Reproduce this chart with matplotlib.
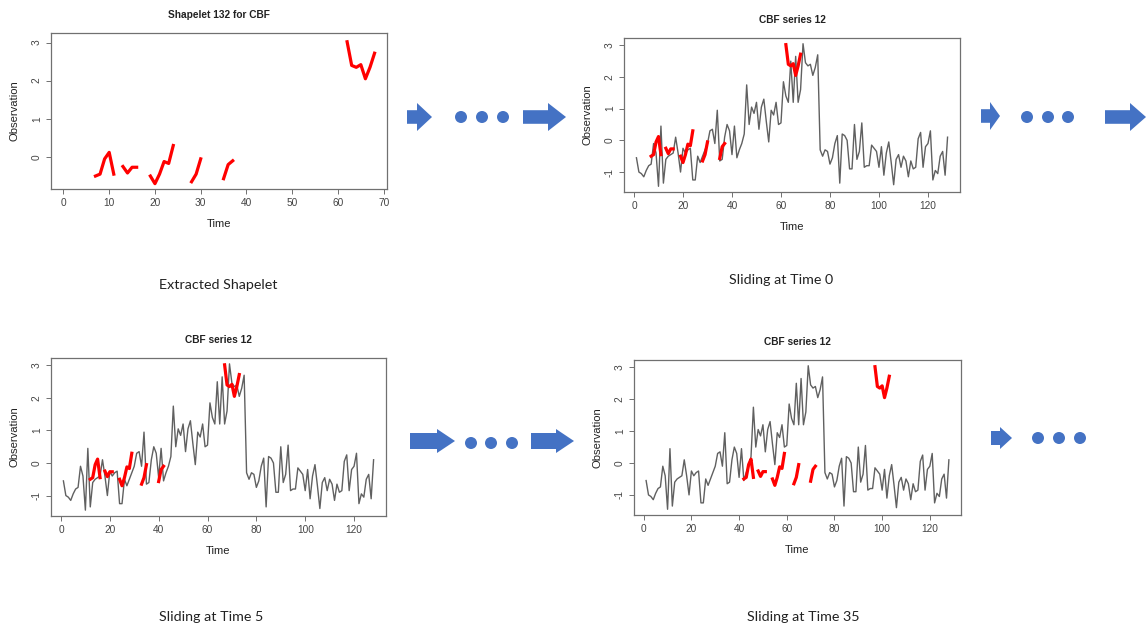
import numpy as np
import matplotlib
matplotlib.use("Agg")
import matplotlib.pyplot as plt
from matplotlib.patches import Polygon, Circle

# CBF series 12 (t = 1..128)
series_values = [
    -0.55, -1.00, -1.05, -1.15, -0.95, -0.80, -0.75, -0.10, -0.40, -1.45,
    0.45, -1.35, -0.60, -0.50, -0.45, -0.40, 0.10, -0.40, -1.00, -0.25,
    -0.40, -0.30, -0.25, -1.25, -1.25, -0.50, -0.70, -0.50, -0.30, -0.10,
    0.30, 0.35, -0.10, 0.95, -0.65, -0.60, 0.10, 0.50, 0.30, -0.45,
    0.45, -0.55, -0.30, -0.10, 0.20, 1.75, 0.50, 1.05, 0.85, 1.20,
    0.35, 1.05, 1.30, 0.60, -0.05, 0.95, 0.80, 1.20, 0.50, 0.55,
    1.85, 1.40, 1.20, 2.50, 1.20, 2.65, 1.20, 1.60, 3.05, 2.45,
    2.35, 2.40, 2.05, 2.30, 2.70, -0.30, -0.50, -0.30, -0.35, -0.75,
    -0.55, -0.10, 0.15, -1.35, 0.20, 0.15, 0.00, -0.90, -0.90, 0.50,
    -0.60, -0.35, 0.55, -0.85, -0.80, -0.80, -0.15, -0.25, -0.35, -0.85,
    -0.20, -1.10, -0.40, -0.05, -0.70, -1.40, -0.60, -0.45, -0.85, -0.50,
    -0.65, -1.15, -0.65, -0.90, -0.85, 0.05, 0.25, -0.85, -0.20, -0.10,
    0.30, -1.25, -0.95, -1.05, -0.50, -0.35, -1.10, 0.10,
]
series_time = np.arange(1, len(series_values) + 1)

# Shapelet 132 (t = 7..68, gaps are NaN)
nan = np.nan
shapelet_values = (
    [-0.50, -0.45, -0.05, 0.12, -0.45]
    + [nan]
    + [-0.25, -0.42, -0.27, -0.27]
    + [nan, nan]
    + [-0.50, -0.70, -0.45, -0.12, -0.17, 0.30]
    + [nan] * 3
    + [-0.65, -0.45, -0.05]
    + [nan] * 4
    + [-0.57, -0.20, -0.10]
    + [nan] * 24
    + [3.02, 2.40, 2.35, 2.42, 2.05, 2.35, 2.72]
)
shapelet_start = 7
shapelet_time = np.arange(shapelet_start, shapelet_start + len(shapelet_values))

slide_offsets = [0, 5, 35]
captions = ["Extracted Shapelet", "Sliding at Time 0", "Sliding at Time 5", "Sliding at Time 35"]

W, H = 1147, 626
plt.rcParams["font.family"] = ["Liberation Sans", "DejaVu Sans"]
plt.rcParams["axes.unicode_minus"] = False

fig = plt.figure(figsize=(W / 100, H / 100), dpi=100)
fig.patch.set_facecolor("white")

box_col = "#707070"
blue = "#4472C4"


def px_axes(x0, y0, x1, y1):
    return fig.add_axes([x0 / W, 1 - y1 / H, (x1 - x0) / W, (y1 - y0) / H])


def r_style(ax, title, xticks, yticks):
    for s in ax.spines.values():
        s.set_color(box_col)
        s.set_linewidth(0.9)
    ax.set_xticks(xticks)
    ax.set_yticks(yticks)
    ax.tick_params(axis="both", length=3.6, width=0.7, color=box_col,
                   labelsize=7.3, labelcolor="#444444", pad=3)
    for lab in ax.get_yticklabels():
        lab.set_rotation(90)
        lab.set_va("center")
    ax.set_title(title, fontsize=7.3, fontweight="bold", color="#222222", pad=11)
    ax.set_xlabel("Time", fontsize=8.1, color="#222222", labelpad=8)
    ax.set_ylabel("Observation", fontsize=8.1, color="#222222", labelpad=9)


def padded(lo, hi):
    d = (hi - lo) * 0.04
    return lo - d, hi + d


# panel 1: shapelet alone
ax1 = px_axes(51, 33, 387, 189)
ax1.plot(shapelet_time, shapelet_values, color="red", lw=2.3)
ax1.set_xlim(*padded(0, 68))
ax1.set_ylim(-0.84, 3.25)
r_style(ax1, "Shapelet 132 for CBF", range(0, 71, 10), [0, 1, 2, 3])

# sliding panels
boxes = [(624, 38, 960, 192), (51, 358, 386, 516), (634, 360, 961, 515)]
for box, off in zip(boxes, slide_offsets):
    ax = px_axes(*box)
    ax.plot(series_time, series_values, color="#606060", lw=1.0)
    ax.plot(shapelet_time + off, shapelet_values, color="red", lw=2.3)
    ax.set_xlim(*padded(series_time.min(), series_time.max()))
    ax.set_ylim(*padded(min(series_values), max(series_values)))
    r_style(ax, "CBF series 12", range(0, 121, 20), [-1, 0, 1, 2, 3])

# overlay for captions, arrows and dots
ov = fig.add_axes([0, 0, 1, 1], zorder=-1)
ov.set_xlim(0, W)
ov.set_ylim(H, 0)
ov.axis("off")

caption_pos = [(218, 285), (781, 280), (211, 617), (803, 617)]
for (cx, cy), txt in zip(caption_pos, captions):
    ov.text(cx, cy, txt, fontsize=10.3, color="#222222", ha="center", va="center",
            family=["Lato", "DejaVu Sans"])


def block_arrow(x0, x1, xh, yc, body=6.8, head=14):
    pts = [(x0, yc - body), (xh, yc - body), (xh, yc - head), (x1, yc),
           (xh, yc + head), (xh, yc + body), (x0, yc + body)]
    ov.add_patch(Polygon(pts, closed=True, facecolor=blue, edgecolor="none"))


def dots(xs, yc, r=6):
    for x in xs:
        ov.add_patch(Circle((x, yc), r, facecolor=blue, edgecolor="none"))


block_arrow(407, 432, 417, 117)
dots([461, 482, 503], 117)
block_arrow(523, 566, 548, 117)

block_arrow(981, 1000, 990, 116)
dots([1027, 1048, 1068], 117)
block_arrow(1105, 1146, 1130, 117)

block_arrow(410, 455, 437, 441, body=8, head=12)
dots([471, 491, 512], 443)
block_arrow(531, 574, 556, 441, body=8, head=12)

block_arrow(991, 1012, 1000, 438, body=7, head=11)
dots([1038, 1059, 1080], 438)

fig.savefig("out.png", dpi=100, facecolor="white")
